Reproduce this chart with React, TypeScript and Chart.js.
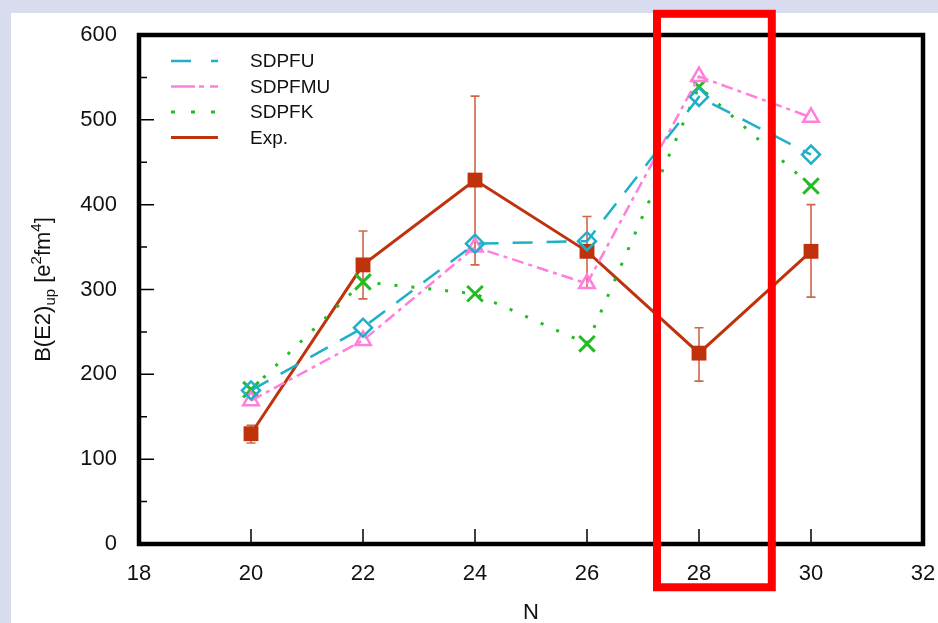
import React, { useEffect, useRef } from "react";
import { Chart, registerables } from "chart.js";
Chart.register(...registerables);

const N = [20, 22, 24, 26, 28, 30];
const sdpfu = [181, 255, 354, 357, 527, 459];
const sdpfmu = [169, 240, 350, 307, 551, 503];
const sdpfk = [182, 309, 295, 236, 539, 422];
const expVal = [130, 329, 429, 345, 225, 345];
const expLow = [119, 289, 329, 302, 192, 291];
const expHigh = [140, 369, 528, 386, 255, 400];
const xMajorTicks = [20, 22, 24, 26, 28, 30];
const yMajorTicks = [100, 200, 300, 400, 500];
const yMinorTicks = [50, 150, 250, 350, 450, 550];
const highlightN = [27.25, 29.3];
const highlightY = [-51, 625];

const C_U = "#1fb0c8";
const C_MU = "#ff7fdc";
const C_K = "#22bb22";
const C_EXP = "#c0320c";
const FONT = "'Liberation Sans', Arial, Helvetica, sans-serif";

const legendItems = [
  { label: "SDPFU", color: C_U, dash: [20, 20], width: 2.5 },
  { label: "SDPFMU", color: C_MU, dash: [24, 4, 5, 6], width: 2.5 },
  { label: "SDPFK", color: C_K, dash: [4, 16], width: 3 },
  { label: "Exp.", color: C_EXP, dash: [], width: 3 },
];

const decorPlugin = {
  id: "decor",
  beforeDraw(chart: any) {
    const ctx = chart.ctx;
    ctx.save();
    ctx.fillStyle = "#d9dbee";
    ctx.fillRect(0, 0, chart.width, chart.height);
    ctx.fillStyle = "#ffffff";
    ctx.fillRect(11, 13, chart.width - 11, chart.height - 13);
    ctx.restore();
  },
  beforeDatasetsDraw(chart: any) {
    const ctx = chart.ctx;
    const xs = chart.scales.x;
    const ys = chart.scales.y;
    ctx.save();
    ctx.strokeStyle = "#d0654a";
    ctx.lineWidth = 1.6;
    for (let i = 0; i < N.length; i++) {
      const x = xs.getPixelForValue(N[i]);
      const y1 = ys.getPixelForValue(expLow[i]);
      const y2 = ys.getPixelForValue(expHigh[i]);
      ctx.beginPath();
      ctx.moveTo(x, y1);
      ctx.lineTo(x, y2);
      ctx.moveTo(x - 4.5, y1);
      ctx.lineTo(x + 4.5, y1);
      ctx.moveTo(x - 4.5, y2);
      ctx.lineTo(x + 4.5, y2);
      ctx.stroke();
    }
    ctx.restore();
  },
  afterDraw(chart: any) {
    const ctx = chart.ctx;
    const a = chart.chartArea;
    const xs = chart.scales.x;
    const ys = chart.scales.y;
    ctx.save();
    ctx.strokeStyle = "#000";
    ctx.lineWidth = 1.5;
    ctx.beginPath();
    for (const t of xMajorTicks) {
      const x = xs.getPixelForValue(t);
      ctx.moveTo(x, a.bottom);
      ctx.lineTo(x, a.bottom - 15);
    }
    for (const t of yMajorTicks) {
      const y = ys.getPixelForValue(t);
      ctx.moveTo(a.left, y);
      ctx.lineTo(a.left + 15, y);
    }
    for (const t of yMinorTicks) {
      const y = ys.getPixelForValue(t);
      ctx.moveTo(a.left, y);
      ctx.lineTo(a.left + 8, y);
    }
    ctx.stroke();
    ctx.lineWidth = 4.5;
    ctx.strokeRect(a.left, a.top, a.right - a.left, a.bottom - a.top);
    legendItems.forEach((it, i) => {
      const y = 61 + i * 25.5;
      ctx.strokeStyle = it.color;
      ctx.lineWidth = it.width;
      ctx.setLineDash(it.dash);
      ctx.beginPath();
      ctx.moveTo(171, y);
      ctx.lineTo(218, y);
      ctx.stroke();
      ctx.setLineDash([]);
      ctx.fillStyle = "#111";
      ctx.font = "19px " + FONT;
      ctx.textBaseline = "middle";
      ctx.textAlign = "left";
      ctx.fillText(it.label, 250, y + 1);
    });
    const parts = [
      { t: "B(E2)", s: 22, dy: 0 },
      { t: "up", s: 15, dy: 5 },
      { t: " [e", s: 22, dy: 0 },
      { t: "2", s: 15, dy: -9 },
      { t: "fm", s: 22, dy: 0 },
      { t: "4", s: 15, dy: -9 },
      { t: "]", s: 22, dy: 0 },
    ];
    let total = 0;
    for (const p of parts) {
      ctx.font = p.s + "px " + FONT;
      total += ctx.measureText(p.t).width;
    }
    ctx.translate(50, (a.top + a.bottom) / 2);
    ctx.rotate(-Math.PI / 2);
    ctx.fillStyle = "#111";
    ctx.textBaseline = "alphabetic";
    ctx.textAlign = "left";
    let cx = -total / 2;
    for (const p of parts) {
      ctx.font = p.s + "px " + FONT;
      ctx.fillText(p.t, cx, p.dy);
      cx += ctx.measureText(p.t).width;
    }
    ctx.setTransform(1, 0, 0, 1, 0, 0);
    const hx1 = xs.getPixelForValue(highlightN[0]);
    const hx2 = xs.getPixelForValue(highlightN[1]);
    const hy1 = ys.getPixelForValue(highlightY[1]);
    const hy2 = ys.getPixelForValue(highlightY[0]);
    ctx.strokeStyle = "#ff0000";
    ctx.lineWidth = 8;
    ctx.strokeRect(hx1, hy1, hx2 - hx1, hy2 - hy1);
    ctx.restore();
  },
};

export default function App() {
  const ref = useRef<HTMLCanvasElement>(null);
  useEffect(() => {
    document.body.style.margin = "0";
    const chart = new Chart(ref.current!, {
      type: "line",
      data: {
        datasets: [
          {
            label: "SDPFU",
            data: N.map((n, i) => ({ x: n, y: sdpfu[i] })),
            borderColor: C_U,
            borderWidth: 2.5,
            borderDash: [20, 14],
            pointStyle: "rectRot",
            pointRadius: 9,
            pointBorderWidth: 2.5,
            pointBorderColor: C_U,
            pointBackgroundColor: "rgba(0,0,0,0)",
          },
          {
            label: "SDPFMU",
            data: N.map((n, i) => ({ x: n, y: sdpfmu[i] })),
            borderColor: C_MU,
            borderWidth: 2.5,
            borderDash: [12, 5, 4, 5],
            pointStyle: "triangle",
            pointRadius: 9,
            pointBorderWidth: 2.5,
            pointBorderColor: C_MU,
            pointBackgroundColor: "rgba(0,0,0,0)",
          },
          {
            label: "SDPFK",
            data: N.map((n, i) => ({ x: n, y: sdpfk[i] })),
            borderColor: C_K,
            borderWidth: 3,
            borderDash: [3, 14],
            pointStyle: "crossRot",
            pointRadius: 11,
            pointBorderWidth: 3,
            pointBorderColor: C_K,
            pointBackgroundColor: C_K,
          },
          {
            label: "Exp.",
            data: N.map((n, i) => ({ x: n, y: expVal[i] })),
            borderColor: C_EXP,
            borderWidth: 3,
            pointStyle: "rect",
            pointRadius: 10.5,
            pointBorderWidth: 0,
            pointBackgroundColor: C_EXP,
          },
        ],
      },
      options: {
        animation: false,
        responsive: false,
        layout: { padding: { top: 35, right: 15, left: 0, bottom: 0 } },
        plugins: { legend: { display: false }, tooltip: { enabled: false } },
        scales: {
          x: {
            type: "linear",
            min: 18,
            max: 32,
            grid: { display: false, drawTicks: false },
            border: { display: false },
            ticks: {
              stepSize: 2,
              padding: 17,
              color: "#111",
              font: { family: FONT, size: 22 },
              maxRotation: 0,
            },
            title: {
              display: true,
              text: "N",
              color: "#111",
              font: { family: FONT, size: 22 },
              padding: { top: 0, bottom: -3 },
            },
            afterFit: (s: any) => {
              s.height = 79;
              s.paddingRight = 0;
              s.paddingLeft = 0;
            },
          },
          y: {
            type: "linear",
            min: 0,
            max: 600,
            grid: { display: false, drawTicks: false },
            border: { display: false },
            ticks: {
              stepSize: 100,
              padding: 22,
              color: "#111",
              font: { family: FONT, size: 22 },
            },
            afterFit: (s: any) => {
              s.width = 139;
              s.paddingTop = 0;
              s.paddingBottom = 0;
            },
          },
        },
      },
      plugins: [decorPlugin],
    });
    return () => chart.destroy();
  }, []);
  return (
    <div style={{ position: "fixed", left: 0, top: 0, width: 938, height: 623 }}>
      <canvas ref={ref} width={938} height={623} />
    </div>
  );
}
